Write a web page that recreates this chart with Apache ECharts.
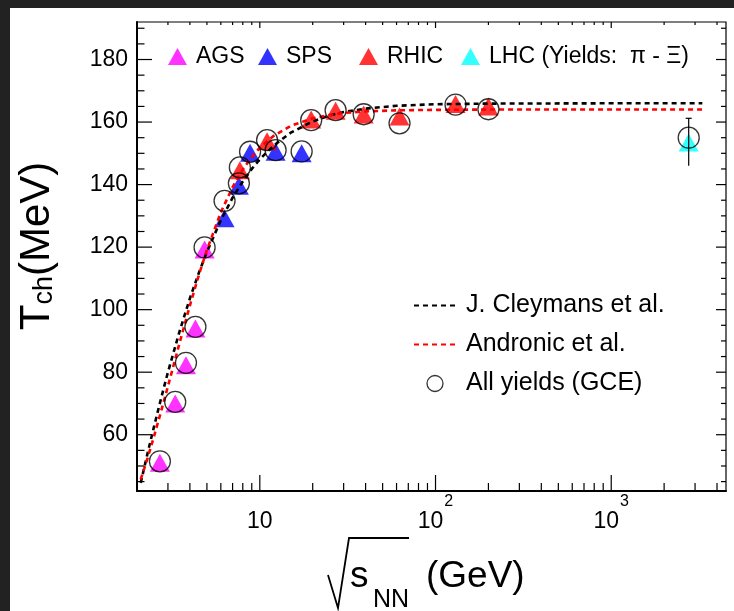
<!DOCTYPE html>
<html><head><meta charset="utf-8">
<script src="https://cdn.jsdelivr.net/npm/echarts@6/dist/echarts.min.js"></script>
<style>
html,body{margin:0;padding:0;background:#222;width:734px;height:611px;overflow:hidden}
#c{position:absolute;left:10px;top:8px;width:724px;height:603px;background:#fff}
</style></head><body><div id="c"></div>
<script>
// ---- data ----
const agsX = [2.7, 3.3, 3.8, 4.3, 4.85];
const agsT = [51.0, 70.0, 82.2, 94.0, 119.2];
const spsX = [6.3, 7.6, 8.8, 12.3, 17.3];
const spsT = [129.2, 139.6, 150.2, 150.5, 150.0];
const rhicX = [7.7, 11.0, 19.6, 27, 39, 62.4, 130, 200];
const rhicT = [144.6, 153.9, 160.8, 163.6, 162.4, 161.8, 165.8, 165.0];
const lhcX = [2760];
const lhcT = [153.5];
const lhcErrLow = [146.0];
const lhcErrHigh = [161.2];
const gceX = [2.7, 3.3, 3.8, 4.3, 4.85, 6.3, 7.6, 7.7, 8.8, 11.0, 12.3, 17.3, 19.6, 27, 39, 62.4, 130, 200, 2760];
const gceT = [51.5, 70.5, 83.0, 94.5, 119.9, 134.8, 140.4, 145.5, 150.5, 154.2, 151.0, 150.6, 160.6, 163.8, 162.5, 159.6, 165.6, 164.1, 155.0];
const curveX = [2.1, 2.3, 2.5, 2.75, 3, 3.5, 4, 4.5, 5, 6, 7, 8, 9, 10, 12, 15, 20, 25, 30, 40, 60, 100, 200, 1000, 3300];
const cleymansT = [44.6, 54.2, 62.6, 71.9, 80.0, 93.2, 103.6, 111.8, 118.5, 128.6, 135.8, 141.0, 145.0, 148.1, 152.5, 156.6, 160.2, 162.1, 163.2, 164.3, 165.2, 165.7, 165.9, 166.0, 166.0];
const andronicT = [45.7, 52.6, 59.5, 67.7, 75.5, 89.5, 101.3, 111.1, 119.1, 131.1, 139.2, 144.8, 148.8, 151.8, 155.6, 158.8, 161.2, 162.3, 162.9, 163.4, 163.75, 163.9, 164.0, 164.0, 164.0];
// axis ticks / labels
const yLabels = [60, 80, 100, 120, 140, 160, 180];
const yMajorTicks = [60, 80, 100, 120, 140, 160, 180];
const yMinorTicks = [45, 50, 55, 65, 70, 75, 85, 90, 95, 105, 110, 115, 125, 130, 135, 145, 150, 155, 165, 170, 175, 185, 190];
const xLabels = [10, 100, 1000];
const xMajorTicks = [10, 100, 1000];
const xMinorTicks = [3, 4, 5, 6, 7, 8, 9, 20, 30, 40, 50, 60, 70, 80, 90, 200, 300, 400, 500, 600, 700, 800, 900, 2000, 3000, 4000];
const legendNames = ['AGS', 'SPS', 'RHIC', 'LHC (Yields:  π - Ξ)'];
const curveNames = ['J. Cleymans et al.', 'Andronic et al.', 'All yields (GCE)'];

const FONT = "'Liberation Sans', Arial, Helvetica, sans-serif";
const zip = (a, b) => a.map((v, i) => [v, b[i]]);

const chart = echarts.init(document.getElementById('c'), null, {renderer: 'canvas'});

function tri(name, xs, ts, color) {
  return {
    type: 'scatter', name: name, data: zip(xs, ts), symbol: 'triangle', symbolSize: [20, 18],
    itemStyle: {color: color}, z: 2, silent: true
  };
}

const legendCommon = {
  top: 37, padding: 0, itemWidth: 19, itemHeight: 17, selectedMode: false,
  textStyle: {fontFamily: FONT, fontSize: 23, color: '#000', padding: [0, 0, 0, 4]}
};
const hiddenSym = {color: 'rgba(0,0,0,0)', borderColor: 'rgba(0,0,0,0)', borderWidth: 0, opacity: 0};

const option = {
  animation: false,
  backgroundColor: '#fff',
  grid: {left: 127, top: 14, right: 8, bottom: 120, show: true, borderColor: '#000', borderWidth: 1.2, backgroundColor: 'transparent'},
  xAxis: {
    type: 'log', logBase: 10, min: 2, max: 4500,
    axisLine: {show: true, onZero: false, lineStyle: {color: '#000', width: 2}},
    axisTick: {show: false}, splitLine: {show: false}, minorTick: {show: false}, minorSplitLine: {show: false},
    axisLabel: {
      margin: 3, color: '#000', fontFamily: FONT,
      formatter: function (v) {
        const e = Math.log10(v), r = Math.round(e);
        if (Math.abs(e - r) > 1e-6 || xLabels.indexOf(Math.pow(10, r)) < 0) return '';
        return r === 1 ? '{b|10}' : '{b|10}{p|' + r + '}';
      },
      rich: {
        b: {fontSize: 23, lineHeight: 39, verticalAlign: 'bottom', fontFamily: FONT, color: '#000'},
        p: {fontSize: 16, lineHeight: 16, verticalAlign: 'top', padding: [0, 0, 0, 1], fontFamily: FONT, color: '#000'}
      }
    }
  },
  yAxis: {
    type: 'value', min: 42, max: 192, splitNumber: 7,
    axisLine: {show: true, onZero: false, lineStyle: {color: '#000', width: 2}},
    axisTick: {show: false}, splitLine: {show: false},
    axisLabel: {
      customValues: yLabels, margin: 9, fontSize: 23, fontFamily: FONT, color: '#000',
      formatter: function (v) { return yLabels.indexOf(v) >= 0 ? String(v) : ''; }
    }
  },
  legend: [
    Object.assign({left: 158, data: [{name: legendNames[0], icon: 'triangle'}]}, legendCommon),
    Object.assign({left: 248, data: [{name: legendNames[1], icon: 'triangle'}]}, legendCommon),
    Object.assign({left: 349, data: [{name: legendNames[2], icon: 'triangle'}]}, legendCommon),
    Object.assign({left: 451, data: [{name: legendNames[3], icon: 'triangle'}]}, legendCommon),
    {
      orient: 'vertical', left: 403, top: 285, padding: 0, itemWidth: 42, itemHeight: 16, itemGap: 14, selectedMode: false,
      lineStyle: {width: 2},
      textStyle: {fontFamily: FONT, fontSize: 25, lineHeight: 24, color: '#000', padding: [0, 0, 0, 5]},
      data: [
        {name: curveNames[0], itemStyle: hiddenSym},
        {name: curveNames[1], itemStyle: hiddenSym},
        {name: curveNames[2], icon: 'circle', itemStyle: {color: 'rgba(0,0,0,0)', borderColor: '#000', borderWidth: 1.3}}
      ]
    }
  ],
  series: [
    tri(legendNames[0], agsX, agsT, '#ff00ff'),
    tri(legendNames[1], spsX, spsT, '#0000ff'),
    tri(legendNames[2], rhicX, rhicT, '#ff0000'),
    tri(legendNames[3], lhcX, lhcT, '#00ffff'),
    {
      type: 'custom', name: 'lhcErr', silent: true, z: 3,
      data: lhcX.map((x, i) => [x, lhcErrLow[i], lhcErrHigh[i]]),
      encode: {x: 0, y: [1, 2]},
      renderItem: function (params, api) {
        const lo = api.coord([api.value(0), api.value(1)]);
        const hi = api.coord([api.value(0), api.value(2)]);
        const st = {stroke: '#000', lineWidth: 1.2};
        return {type: 'group', children: [
          {type: 'line', shape: {x1: lo[0], y1: lo[1], x2: hi[0], y2: hi[1]}, style: st},
          {type: 'line', shape: {x1: hi[0] - 3, y1: hi[1], x2: hi[0] + 3, y2: hi[1]}, style: st}
        ]};
      }
    },
    {
      type: 'line', name: curveNames[0], data: zip(curveX, cleymansT), symbol: 'none', showSymbol: false,
      lineStyle: {color: '#000', width: 2.6, type: [5, 4]}, itemStyle: {color: '#000'}, z: 3, silent: true
    },
    {
      type: 'line', name: curveNames[1], data: zip(curveX, andronicT), symbol: 'none', showSymbol: false,
      lineStyle: {color: '#ff0000', width: 2.6, type: [5, 4]}, itemStyle: {color: '#ff0000'}, z: 3, silent: true
    },
    {
      type: 'scatter', name: curveNames[2], data: zip(gceX, gceT), symbol: 'circle', symbolSize: 21,
      itemStyle: {color: 'rgba(0,0,0,0)', borderColor: '#000', borderWidth: 1.3}, z: 4, silent: true
    },
    {
      type: 'custom', name: 'ticks', silent: true, z: 5,
      data: [[10, 100]],
      renderItem: function (params, api) {
        const cs = params.coordSys;
        const L = cs.x, R = cs.x + cs.width, T = cs.y, B = cs.y + cs.height;
        const ch = [];
        const ln = (x1, y1, x2, y2) => ch.push({type: 'line', shape: {x1: x1, y1: y1, x2: x2, y2: y2}, style: {stroke: '#000', lineWidth: 1.2}});
        yMajorTicks.forEach(v => { const y = api.coord([10, v])[1]; ln(L, y, L + 15, y); ln(R, y, R - 10, y); });
        yMinorTicks.forEach(v => { const y = api.coord([10, v])[1]; ln(L, y, L + 7.5, y); ln(R, y, R - 5, y); });
        xMajorTicks.forEach(v => { const x = api.coord([v, 100])[0]; ln(x, B, x, B - 16); ln(x, T, x, T + 6); });
        xMinorTicks.forEach(v => { const x = api.coord([v, 100])[0]; ln(x, B, x, B - 8); ln(x, T, x, T + 3); });
        return {type: 'group', children: ch};
      }
    }
  ],
  graphic: [
    {
      type: 'text', x: 27, y: 238, rotation: Math.PI / 2, silent: true,
      style: {
        text: '{t|T}{s|ch}{t|(MeV)}', align: 'center', verticalAlign: 'middle',
        rich: {
          t: {fontSize: 42, fontFamily: FONT, fill: '#000', color: '#000', verticalAlign: 'bottom'},
          s: {fontSize: 27, fontFamily: FONT, fill: '#000', color: '#000', verticalAlign: 'bottom'}
        }
      }
    },
    {
      type: 'polyline', silent: true,
      shape: {points: [[318, 567], [328, 600], [339, 530], [399, 530]]},
      style: {stroke: '#000', lineWidth: 1.8, fill: null}
    },
    {type: 'text', x: 340, y: 569, silent: true, style: {text: 's', fontSize: 37, fontFamily: FONT, fill: '#000', align: 'left', verticalAlign: 'middle'}},
    {type: 'text', x: 363, y: 592, silent: true, style: {text: 'NN', fontSize: 25, fontFamily: FONT, fill: '#000', align: 'left', verticalAlign: 'middle'}},
    {type: 'text', x: 416, y: 569, silent: true, style: {text: '(GeV)', fontSize: 37, fontFamily: FONT, fill: '#000', align: 'left', verticalAlign: 'middle'}}
  ]
};
chart.setOption(option);
</script></body></html>
